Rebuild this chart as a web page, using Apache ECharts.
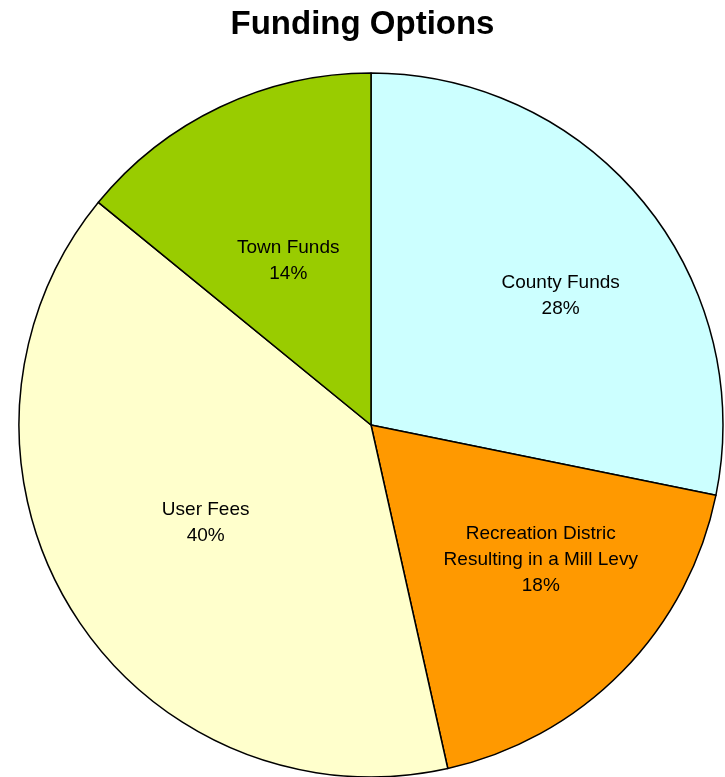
<!DOCTYPE html>
<html>
<head>
<meta charset="utf-8">
<script src="https://cdn.jsdelivr.net/npm/echarts@6/dist/echarts.min.js"></script>
<style>
  html, body { margin: 0; padding: 0; background: #fff; }
  #chart { width: 725px; height: 777px; }
</style>
</head>
<body>
<div id="chart"></div>
<script>
// slices, clockwise from 12 o'clock
const names = ['County Funds', 'Recreation Distric\nResulting in a Mill Levy', 'User Fees', 'Town Funds'];
const values = [28.2, 18.3, 39.4, 14.1];
const colors = ['#CCFFFF', '#FF9900', '#FFFFCC', '#99CC00'];
// nudge of each label away from the default inside spot
const labelShift = [[51, -16], [42, 9], [-13, 4], [-6, -3]];

const cx = 371, cy = 425;

const myChart = echarts.init(document.getElementById('chart'));
myChart.setOption({
    animation: false,
    title: {
        text: 'Funding Options',
        left: 'center',
        top: 3,
        textStyle: { fontFamily: 'Liberation Sans, Arial', fontSize: 33, fontWeight: 'bold', color: '#000' }
    },
    series: [
        {
            type: 'pie',
            center: [cx, cy],
            radius: 352,
            startAngle: 90,
            clockwise: true,
            percentPrecision: 0,
            data: names.map((n, i) => ({ name: n, value: values[i], itemStyle: { color: colors[i] } })),
            itemStyle: { borderColor: '#000', borderWidth: 1.5 },
            label: {
                position: 'inside',
                formatter: '{b}\n{d}%',
                fontFamily: 'Liberation Sans, Arial',
                fontSize: 19,
                lineHeight: 26,
                color: '#000'
            },
            labelLayout: function (params) {
                const s = labelShift[params.dataIndex];
                return { dx: s[0], dy: s[1] };
            },
            emphasis: { disabled: true }
        }
    ]
});
</script>
</body>
</html>
